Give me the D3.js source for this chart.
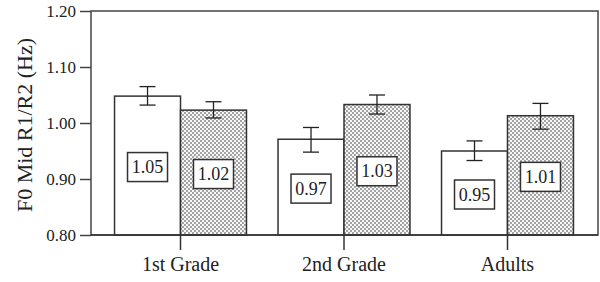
<!DOCTYPE html>
<html>
<head>
<meta charset="utf-8">
<script src="https://cdn.jsdelivr.net/npm/d3@7"></script>
<style>
  body { margin: 0; background: #fff; }
  svg text { font-family: "Times New Roman", "Liberation Serif", Times, serif; fill: #222; }
</style>
</head>
<body>
<div id="chart"></div>
<script>
// Data
const categories = ['1st Grade', '2nd Grade', 'Adults'];
const series = ['R1', 'R2'];
const means = [[1.048, 1.023], [0.971, 1.033], [0.950, 1.013]];
const errHigh = [[1.065, 1.038], [0.992, 1.050], [0.968, 1.035]];
const errLow = [[1.032, 1.009], [0.948, 1.016], [0.933, 0.989]];
const valueLabels = [['1.05', '1.02'], ['0.97', '1.03'], ['0.95', '1.01']];
const yTicks = [0.80, 0.90, 1.00, 1.10, 1.20];

const serif = '"Times New Roman", "Liberation Serif", Times, serif';

function draw() {
  const dimensions = { width: 600, height: 282, left: 91, right: 598, top: 11, bottom: 235 };

  const svg = d3.select('#chart')
    .append('svg')
    .attr('width', dimensions.width)
    .attr('height', dimensions.height);

  // hatch pattern for the second series
  const defs = svg.append('defs');
  const pat = defs.append('pattern')
    .attr('id', 'hatch')
    .attr('patternUnits', 'userSpaceOnUse')
    .attr('width', 4).attr('height', 4);
  pat.append('rect').attr('width', 4).attr('height', 4).attr('fill', '#f6f6f6');
  pat.append('rect').attr('width', 2).attr('height', 2).attr('fill', '#a4a4a4');
  pat.append('rect').attr('x', 2).attr('y', 2).attr('width', 2).attr('height', 2).attr('fill', '#a4a4a4');

  // Scales
  const x = d3.scaleBand()
    .domain(categories)
    .range([dimensions.left, dimensions.right - 1])
    .paddingInner(0.193)
    .paddingOuter(0.144);
  const xSub = d3.scaleBand()
    .domain(series)
    .range([0, x.bandwidth()]);
  const y = d3.scaleLinear()
    .domain([0.80, 1.20])
    .range([dimensions.bottom, dimensions.top]);

  const rows = [];
  categories.forEach((c, i) => series.forEach((s, j) => rows.push({
    cat: c, ser: s, j,
    v: means[i][j], hi: errHigh[i][j], lo: errLow[i][j], label: valueLabels[i][j]
  })));

  // frame
  svg.append('rect')
    .attr('x', dimensions.left).attr('y', dimensions.top)
    .attr('width', dimensions.right - dimensions.left)
    .attr('height', dimensions.bottom - dimensions.top)
    .attr('fill', 'none').attr('stroke', '#444').attr('stroke-width', 1.5);

  // bars
  svg.append('g').selectAll('rect')
    .data(rows)
    .join('rect')
    .attr('x', d => x(d.cat) + xSub(d.ser))
    .attr('y', d => y(d.v))
    .attr('width', xSub.bandwidth())
    .attr('height', d => y(0.80) - y(d.v))
    .attr('fill', d => d.j === 0 ? '#fff' : 'url(#hatch)')
    .attr('stroke', '#333').attr('stroke-width', 1.5);

  // error bars
  const eb = svg.append('g').attr('stroke', '#222').attr('stroke-width', 1.3);
  const cx = d => x(d.cat) + xSub(d.ser) + xSub.bandwidth() / 2;
  eb.selectAll('.stem').data(rows).join('line')
    .attr('x1', cx).attr('x2', cx)
    .attr('y1', d => y(d.hi)).attr('y2', d => y(d.lo));
  eb.selectAll('.capHi').data(rows).join('line')
    .attr('x1', d => cx(d) - 8).attr('x2', d => cx(d) + 8)
    .attr('y1', d => y(d.hi)).attr('y2', d => y(d.hi));
  eb.selectAll('.capLo').data(rows).join('line')
    .attr('x1', d => cx(d) - 8).attr('x2', d => cx(d) + 8)
    .attr('y1', d => y(d.lo)).attr('y2', d => y(d.lo));

  // value label boxes
  const lab = svg.append('g').selectAll('g')
    .data(rows)
    .join('g')
    .attr('transform', d => `translate(${cx(d)}, ${(y(d.v) + y(0.80)) / 2 + 1.5})`);
  lab.append('rect')
    .attr('x', -20).attr('y', -14.5).attr('width', 40).attr('height', 29)
    .attr('fill', '#fff').attr('stroke', '#333').attr('stroke-width', 1.5);
  lab.append('text')
    .attr('text-anchor', 'middle').attr('y', 6)
    .attr('font-family', serif)
    .style('font-size', '18px')
    .text(d => d.label);

  // y axis
  const yAxis = svg.append('g')
    .attr('transform', `translate(${dimensions.left}, 0)`)
    .call(d3.axisLeft(y).tickValues(yTicks).tickFormat(d3.format('.2f')).tickSize(11).tickPadding(4));
  yAxis.attr('font-family', serif);
  yAxis.select('.domain').remove();
  yAxis.selectAll('line').attr('stroke', '#444').attr('stroke-width', 1.5);
  yAxis.selectAll('text').style('font-size', '17px').attr('fill', '#333');

  // x axis
  const xAxis = svg.append('g')
    .attr('transform', `translate(0, ${dimensions.bottom})`)
    .call(d3.axisBottom(x).tickSize(15).tickPadding(7));
  xAxis.attr('font-family', serif);
  xAxis.select('.domain').remove();
  xAxis.selectAll('line').attr('stroke', '#333').attr('stroke-width', 1.5);
  xAxis.selectAll('text').style('font-size', '20px').attr('fill', '#222');

  svg.append('line')
    .attr('x1', dimensions.left).attr('x2', dimensions.right)
    .attr('y1', dimensions.bottom).attr('y2', dimensions.bottom)
    .attr('stroke', '#333').attr('stroke-width', 1.5);

  // y title
  svg.append('text')
    .attr('transform', `translate(32, ${(dimensions.top + dimensions.bottom) / 2 + 2}) rotate(-90)`)
    .attr('text-anchor', 'middle')
    .attr('font-family', serif)
    .style('font-size', '22px')
    .attr('fill', '#333')
    .text('F0 Mid R1/R2 (Hz)');
}

draw();
</script>
</body>
</html>
